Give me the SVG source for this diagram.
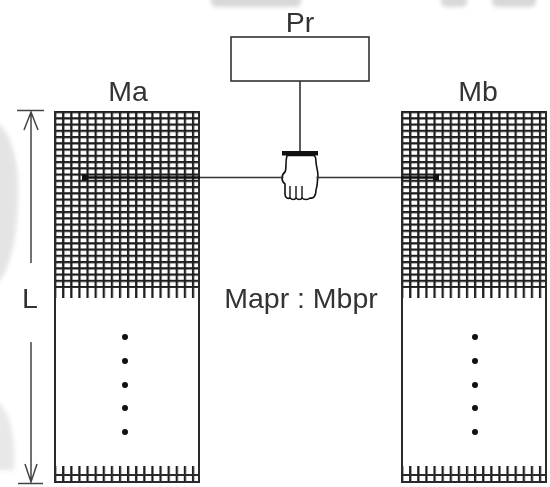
<svg xmlns="http://www.w3.org/2000/svg" width="550" height="487" viewBox="0 0 550 487">
  <style>
    .lbl { font-family: "Liberation Sans", Arial, sans-serif; font-size: 28.5px; fill: #333; }
    .edge { stroke: #2a2a2a; stroke-width: 2; fill: none; }
    .thin { stroke: #333; stroke-width: 1.6; fill: none; }
    .bold { stroke: #111; stroke-width: 2.4; fill: none; }
    .dim { stroke: #444; stroke-width: 1.5; fill: none; }
    .dot { fill: #111; }
    .wm { fill: #d8d8d8; }
  </style>
  <defs>
    <!-- fine mesh used on the filled part of each column -->
    <pattern id="mesh" patternUnits="userSpaceOnUse" x="0" y="0" width="8.111" height="6.25">
      <path d="M1.1,0 V6.25 M0,1.1 H8.111" stroke="#1e1e1e" stroke-width="2.3" fill="none"/>
    </pattern>
    <!-- vertical teeth only, same pitch as the mesh -->
    <pattern id="comb" patternUnits="userSpaceOnUse" x="0" y="0" width="8.111" height="10">
      <path d="M1.1,0 V10" stroke="#1e1e1e" stroke-width="2.3" fill="none"/>
    </pattern>
    <filter id="soft" x="-20%" y="-20%" width="140%" height="140%">
      <feGaussianBlur stdDeviation="2"/>
    </filter>
  </defs>

  <rect width="550" height="487" fill="#fff"/>

  <!-- faint background marks -->
  <g id="background-marks" filter="url(#soft)">
    <rect class="wm" x="211" y="-6" width="90" height="13" rx="5"/>
    <rect class="wm" x="441" y="-6" width="26" height="13" rx="5"/>
    <rect class="wm" x="492" y="-6" width="44" height="13" rx="5"/>
    <path class="wm" d="M-4,122 C10,130 20,160 18,200 C17,240 10,270 -4,286 Z" opacity="0.7"/>
    <path class="wm" d="M-4,400 C8,410 16,430 14,470 L-4,470 Z" opacity="0.6"/>
  </g>

  <!-- column Ma -->
  <g id="node-Ma" transform="translate(54,111)">
    <rect x="0" y="0" width="146" height="177" fill="url(#mesh)"/>
    <rect x="0" y="177" width="146" height="10" fill="url(#comb)"/>
    <rect x="0" y="355" width="146" height="17" fill="url(#comb)"/>
    <path class="edge" d="M0,364 H146 M0,371 H146"/>
    <path class="edge" d="M1,0 V372 M145,0 V372"/>
    <g class="dot">
      <circle cx="71" cy="226" r="3"/>
      <circle cx="71" cy="250" r="3"/>
      <circle cx="71" cy="274" r="3"/>
      <circle cx="71" cy="297" r="3"/>
      <circle cx="71" cy="321" r="3"/>
    </g>
  </g>
  <text class="lbl" x="128" y="101" text-anchor="middle">Ma</text>

  <!-- column Mb -->
  <g id="node-Mb" transform="translate(401,111)">
    <rect x="0" y="0" width="146" height="177" fill="url(#mesh)"/>
    <rect x="0" y="177" width="146" height="10" fill="url(#comb)"/>
    <rect x="0" y="355" width="146" height="17" fill="url(#comb)"/>
    <path class="edge" d="M0,364 H146 M0,371 H146"/>
    <path class="edge" d="M1,0 V372 M145,0 V372"/>
    <g class="dot">
      <circle cx="74" cy="226" r="3"/>
      <circle cx="74" cy="250" r="3"/>
      <circle cx="74" cy="274" r="3"/>
      <circle cx="74" cy="297" r="3"/>
      <circle cx="74" cy="321" r="3"/>
    </g>
  </g>
  <text class="lbl" x="478" y="101" text-anchor="middle">Mb</text>

  <!-- processor box -->
  <g id="node-Pr">
    <rect x="231" y="37" width="138" height="44" fill="#fff" stroke="#333" stroke-width="1.6"/>
    <text class="lbl" x="300" y="32" text-anchor="middle">Pr</text>
  </g>

  <!-- gripping hand -->
  <g id="node-hand">
    <rect x="282" y="151" width="36" height="4.5" fill="#111"/>
    <path d="M287,155.5 C285,162 287,168 285,172 C281,175 281,181 285,184 L285,194 C285,198 288,199 290,198
             C292,200 295,200 296,198 C298,200 301,200 302,198 C304,200 308,200 310,198
             C314,199 316,195 316,190 C318,185 317,180 318,176 C318,170 316,166 316,162
             C316,158 315,156 314,155.5 Z" fill="#fff" stroke="#111" stroke-width="1.6" stroke-linejoin="round"/>
    <path d="M290,186 V198 M296,186 V198 M302,186 V198" stroke="#111" stroke-width="1.4" fill="none"/>
  </g>

  <!-- connectors -->
  <g id="connectors">
    <path class="thin" d="M300,81 V151"/>
    <path class="thin" d="M200,177.5 H283.5 M316.5,177.5 H401"/>
    <path class="bold" d="M85,177.5 H200 M401,177.5 H436"/>
    <rect class="dot" x="82" y="174.5" width="6" height="6"/>
    <rect class="dot" x="433" y="174.5" width="6" height="6"/>
  </g>

  <!-- length dimension -->
  <g id="dimension-L">
    <path class="dim" d="M17,110.5 H44 M31,112 V263 M24,130 L31,112 L38,130"/>
    <path class="dim" d="M31,342 V482 M25,464 L31,482 L37,464 M18,483.5 H43"/>
    <text class="lbl" x="22" y="308">L</text>
  </g>

  <text class="lbl" x="301" y="308" text-anchor="middle">Mapr : Mbpr</text>
</svg>
